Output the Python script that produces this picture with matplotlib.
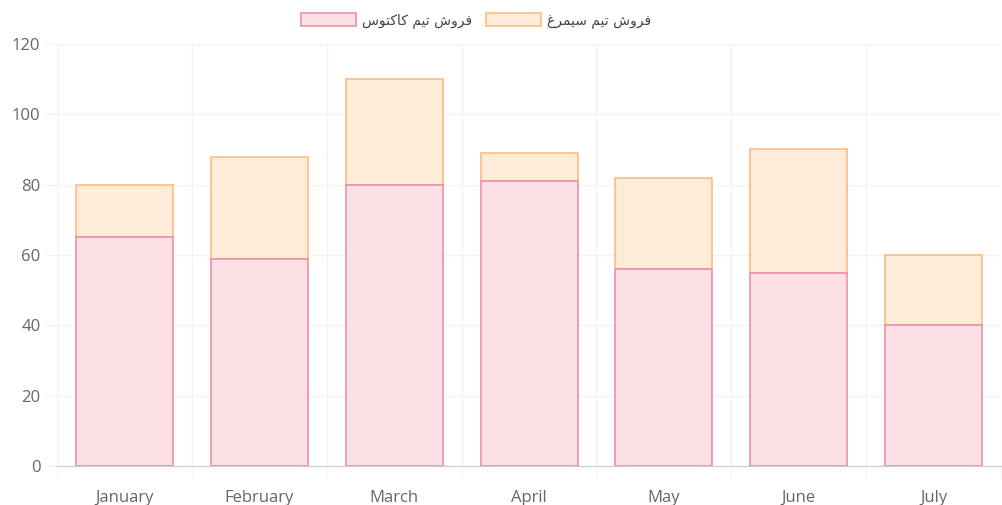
import numpy as np
import matplotlib.pyplot as plt
from matplotlib.patches import Rectangle

months = ["January", "February", "March", "April", "May", "June", "July"]
cactus = [65, 59, 80, 81, 56, 55, 40]
simorgh = [15, 29, 30, 8, 26, 35, 20]
series_names = ["فروش تیم کاکتوس", "فروش تیم سیمرغ"]

# contextual forms (isolated, final, initial, medial) for the letters used
FORMS = {
    "ف": ("\uFED1", "\uFED2", "\uFED3", "\uFED4"),
    "ر": ("\uFEAD", "\uFEAE", None, None),
    "و": ("\uFEED", "\uFEEE", None, None),
    "ش": ("\uFEB5", "\uFEB6", "\uFEB7", "\uFEB8"),
    "ت": ("\uFE95", "\uFE96", "\uFE97", "\uFE98"),
    "ی": ("\uFBFC", "\uFBFD", "\uFBFE", "\uFBFF"),
    "م": ("\uFEE1", "\uFEE2", "\uFEE3", "\uFEE4"),
    "ک": ("\uFB8E", "\uFB8F", "\uFB90", "\uFB91"),
    "ا": ("\uFE8D", "\uFE8E", None, None),
    "س": ("\uFEB1", "\uFEB2", "\uFEB3", "\uFEB4"),
    "غ": ("\uFECD", "\uFECE", "\uFECF", "\uFED0"),
}


def shape(text):
    out = []
    for i, ch in enumerate(text):
        if ch not in FORMS:
            out.append(ch)
            continue
        prev = text[i - 1] if i > 0 else " "
        nxt = text[i + 1] if i + 1 < len(text) else " "
        joins_prev = prev in FORMS and FORMS[prev][2] is not None
        joins_next = nxt in FORMS and FORMS[ch][2] is not None
        iso, fin, ini, med = FORMS[ch]
        if joins_prev and joins_next:
            out.append(med)
        elif joins_prev:
            out.append(fin)
        elif joins_next:
            out.append(ini)
        else:
            out.append(iso)
    return "".join(out)[::-1]


plt.rcParams['font.family'] = ['Open Sans', 'DejaVu Sans']

fig = plt.figure(figsize=(10.02, 5.05), dpi=100)
ax = fig.add_axes([0.057, 0.077, 0.942, 0.836])

x = np.arange(len(months))
w = 0.72
pink_fill = "#fde0e6"
pink_edge = "#ec90a8"
orange_fill = "#feecd9"
orange_edge = "#f7bd84"

# pink drawn on top so the joint line between the stacks is pink
ax.bar(x, simorgh, w, bottom=cactus, color=orange_fill, edgecolor=orange_edge,
       linewidth=1.2, zorder=3)
ax.bar(x, cactus, w, color=pink_fill, edgecolor=pink_edge, linewidth=1.2, zorder=4)

ax.set_xlim(-0.5, len(months) - 0.5)
ax.set_ylim(0, 120)
ax.set_yticks(np.arange(0, 121, 20))
ax.set_xticks(x)
ax.set_xticklabels(months)
ax.set_xticks(np.arange(-0.5, len(months), 1), minor=True)

grid_c = "#f2f2f2"
ax.grid(axis="y", color=grid_c, linewidth=1, zorder=0)
ax.grid(axis="x", which="minor", color=grid_c, linewidth=1, zorder=0)
ax.tick_params(axis="x", which="major", length=0, pad=17, labelsize=12, labelcolor="#666666")
ax.tick_params(axis="x", which="minor", length=9, color=grid_c)
ax.tick_params(axis="y", length=9, color=grid_c, pad=3, labelsize=12, labelcolor="#666666")

for s in ["top", "right"]:
    ax.spines[s].set_visible(False)
ax.spines["left"].set_color(grid_c)
ax.spines["bottom"].set_color("#cccccc")

handles = [
    Rectangle((0, 0), 1, 1, facecolor=pink_fill, edgecolor=pink_edge, linewidth=1.2),
    Rectangle((0, 0), 1, 1, facecolor=orange_fill, edgecolor=orange_edge, linewidth=1.2),
]
leg = fig.legend(handles, [shape(n) for n in series_names], loc="upper center",
                 bbox_to_anchor=(0.475, 1.0), ncol=2, frameon=False,
                 handlelength=4.0, handleheight=1.1, handletextpad=0.4,
                 columnspacing=1.0,
                 prop={"family": "DejaVu Sans", "size": 10})
for t in leg.get_texts():
    t.set_color("#444444")

fig.savefig("out.png", dpi=100, facecolor="white")
